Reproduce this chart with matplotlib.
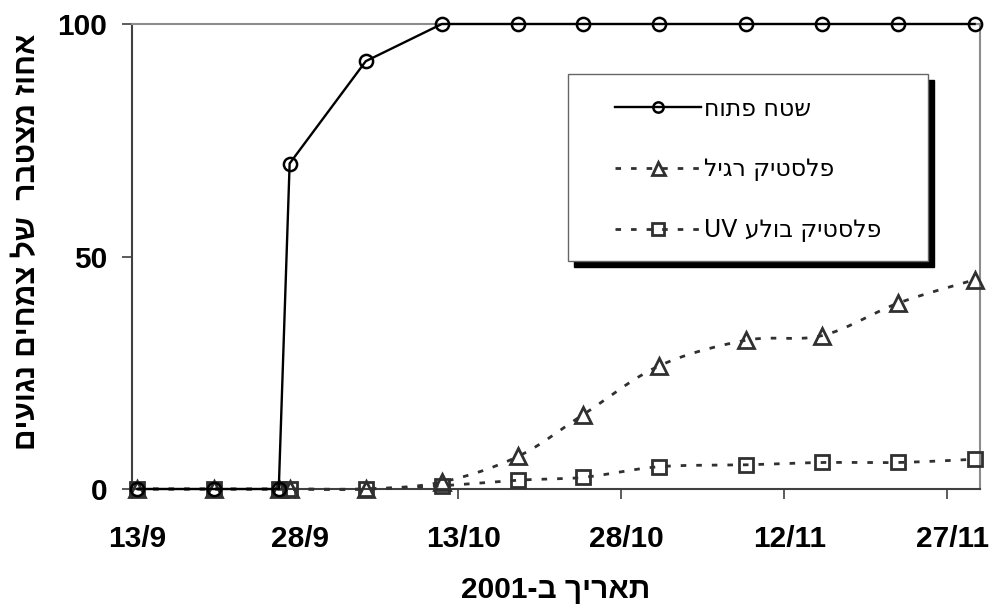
import datetime as dt
import numpy as np
import matplotlib
matplotlib.use("Agg")
import matplotlib.pyplot as plt
import matplotlib.dates as mdates
from matplotlib.patches import Rectangle
from matplotlib.lines import Line2D
from matplotlib.font_manager import FontProperties
from matplotlib.transforms import ScaledTranslation

# ---------------- data ----------------
dates = ["13/9", "20/9", "26/9", "27/9", "4/10", "11/10", "18/10",
         "24/10", "31/10", "8/11", "15/11", "22/11", "29/11"]
open_field = [0, 0, 0, 70, 92, 100, 100, 100, 100, 100, 100, 100, 100]
plastic_regular = [0, 0, 0, 0, 0, 1.5, 7, 16, 26.5, 32, 33, 40, 45]
plastic_uv = [0, 0, 0, 0, 0, 0.7, 1.9, 2.5, 4.8, 5.2, 5.7, 5.7, 6.4]
series_names = ["שטח פתוח", "פלסטיק רגיל", "פלסטיק בולע UV"]
tick_dates = ["13/9", "28/9", "13/10", "28/10", "12/11", "27/11"]
y_ticks = [0, 50, 100]
x_label = "תאריך ב-2001"
y_label = "אחוז מצטבר  של צמחים נגועים"
year = 2001
x_start, x_end = "13/9", "30/11"


def to_num(s):
    d, m = s.split("/")
    return mdates.date2num(dt.datetime(year, int(m), int(d)))


def vis(s):
    """Convert logical-order RTL text to visual order for LTR rendering."""
    runs = []
    for ch in s:
        ltr = ch.isascii() and ch.isalnum()
        if runs and runs[-1][0] == ltr:
            runs[-1][1] += ch
        else:
            runs.append([ltr, ch])
    return "".join(t if l else t[::-1] for l, t in reversed(runs))


plt.rcParams["font.family"] = ["Liberation Sans", "DejaVu Sans"]

fig = plt.figure(figsize=(9.97, 6.10), dpi=100)
W, H = 997, 610
axL, axR, axT, axB = 132, 980, 24, 489
ax = fig.add_axes([axL / W, 1 - axB / H, (axR - axL) / W, (axB - axT) / H])

ax.set_xlim(to_num(x_start), to_num(x_end))
ax.set_ylim(0, 100)

# Excel date axis "between tick marks": points sit in the middle of their day
x = np.array([to_num(d) for d in dates]) + 0.5


def smooth(xv, yv, n=24):
    pts = ax.transData.transform(np.column_stack([xv, yv]))
    out = []
    m = len(pts)
    t = np.linspace(0, 1, n)[:, None]
    for i in range(m - 1):
        p0 = pts[max(i - 1, 0)]
        p1 = pts[i]
        p2 = pts[i + 1]
        p3 = pts[min(i + 2, m - 1)]
        c1 = p1 + (p2 - p0) / 6.0
        c2 = p2 - (p3 - p1) / 6.0
        seg = ((1 - t) ** 3) * p1 + 3 * ((1 - t) ** 2) * t * c1 + 3 * (1 - t) * t ** 2 * c2 + t ** 3 * p2
        out.append(seg if i == 0 else seg[1:])
    out = np.vstack(out)
    res = ax.transData.inverted().transform(out)
    return res[:, 0], res[:, 1]


gray = "#303030"
dash = (0, (2.0, 3.6))
dlw = 2.0

# plastic UV (squares)
sx, sy = smooth(x, plastic_uv)
ax.plot(sx, sy, color=gray, lw=dlw, linestyle=dash, clip_on=False, zorder=3)
ax.plot(x, plastic_uv, linestyle="none", marker="s", ms=10.5, mfc="none",
        mec=gray, mew=2.0, clip_on=False, zorder=4)
# plastic regular (triangles)
tx, ty = smooth(x, plastic_regular)
ax.plot(tx, ty, color=gray, lw=dlw, linestyle=dash, clip_on=False, zorder=3)
ax.plot(x, plastic_regular, linestyle="none", marker="^", ms=12, mfc="none",
        mec=gray, mew=2.0, clip_on=False, zorder=4)
# open field (circles)
ax.plot(x, open_field, color="black", lw=1.7, marker="o", ms=9.5, mfc="none",
        mec="black", mew=1.8, clip_on=False, zorder=5)

# axes styling
for side in ("left", "bottom"):
    ax.spines[side].set_color("#404040")
    ax.spines[side].set_linewidth(1.5)
for side in ("top", "right"):
    ax.spines[side].set_color("#8c8c8c")
    ax.spines[side].set_linewidth(1.5)

fs = 21.5
ax.set_yticks(y_ticks)
ax.set_yticklabels([str(v) for v in y_ticks])
ax.set_xticks([to_num(d) for d in tick_dates])
ax.set_xticklabels(tick_dates)
ax.tick_params(axis="y", direction="out", length=7, width=1.2, color="#404040",
               pad=11, labelsize=fs)
ax.tick_params(axis="x", direction="out", length=7, width=1.2, color="#404040",
               pad=19, labelsize=fs)
for lab in ax.get_xticklabels() + ax.get_yticklabels():
    lab.set_fontweight("bold")
for lab in ax.get_xticklabels():
    lab.set_transform(lab.get_transform() + ScaledTranslation(5 / 100, 0, fig.dpi_scale_trans))

ax.set_xlabel(vis(x_label), fontsize=fs, fontweight="bold")
ax.xaxis.set_label_coords(0.5, (axB - 590) / (axB - axT))
ax.xaxis.label.set_va("center")
ax.set_ylabel(vis(y_label), fontsize=fs, fontweight="bold")
ax.yaxis.set_label_coords((27 - axL) / (axR - axL), (axB - 242) / (axB - axT))
ax.yaxis.label.set_va("center")

# legend
handles = [
    Line2D([], [], color="black", lw=1.7, marker="o", ms=9.5, mfc="none", mec="black", mew=1.8),
    Line2D([], [], color=gray, lw=dlw, linestyle=dash, marker="^", ms=12, mfc="none", mec=gray, mew=2.0),
    Line2D([], [], color=gray, lw=dlw, linestyle=dash, marker="s", ms=10.5, mfc="none", mec=gray, mew=2.0),
]
bx0, bx1, by0, by1 = 568, 928, 74, 261


def axfx(px):
    return (px - axL) / (axR - axL)


def axfy(py):
    return (axB - py) / (axB - axT)


lfs = 17
leg = ax.legend(handles, [vis(s) for s in series_names], loc="center",
                bbox_to_anchor=((axfx(bx0) + axfx(bx1)) / 2, (axfy(by0) + axfy(by1)) / 2 - 0.004),
                frameon=False, prop=FontProperties(family="DejaVu Sans", size=lfs),
                handlelength=3.65, handletextpad=0.12, labelspacing=1.55,
                markerscale=0.78, borderpad=0)
leg.set_zorder(10)
shadow = Rectangle((axfx(bx0) + 6 / (axR - axL), axfy(by1) - 6 / (axB - axT)),
                   axfx(bx1) - axfx(bx0), axfy(by0) - axfy(by1),
                   transform=ax.transAxes, facecolor="black", edgecolor="black",
                   clip_on=False, zorder=8)
frame = Rectangle((axfx(bx0), axfy(by1)), axfx(bx1) - axfx(bx0), axfy(by0) - axfy(by1),
                  transform=ax.transAxes, facecolor="white", edgecolor="#666666",
                  lw=1.0, clip_on=False, zorder=9)
ax.add_patch(shadow)
ax.add_patch(frame)

fig.savefig("out.png", dpi=100)
